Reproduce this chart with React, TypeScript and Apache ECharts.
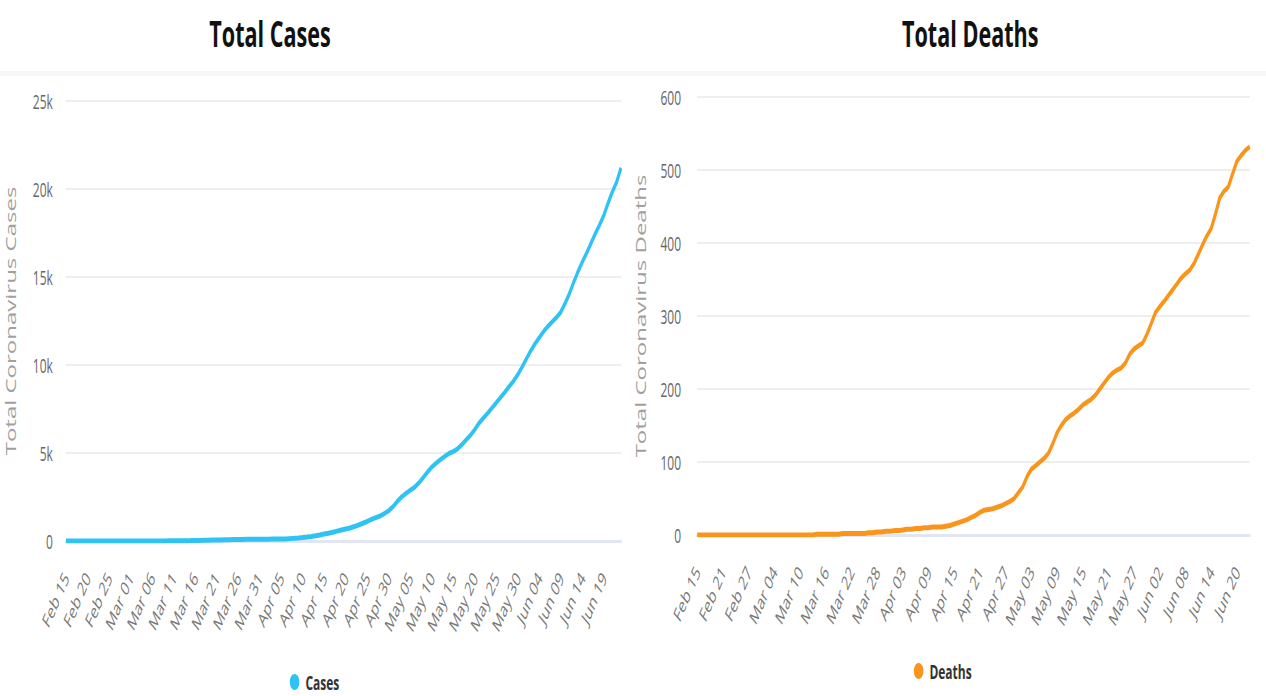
import React, { useEffect, useRef } from "react";
import * as echarts from "echarts";

// Daily series, Feb 15 2020 .. Jun 23 2020 (130 days)
const START_YEAR = 2020;
const START_MONTH = 1; // Feb (0-based)
const START_DAY = 15;
const MONTH_NAMES = ["Jan", "Feb", "Mar", "Apr", "May", "Jun", "Jul", "Aug", "Sep", "Oct", "Nov", "Dec"];

const totalCases = [
  0, 0, 0, 0, 0, 0, 0, 0, 0, 0,
  0, 0, 0, 0, 0, 1, 1, 1, 2, 2,
  3, 4, 5, 6, 8, 10, 12, 15, 18, 22,
  27, 32, 38, 44, 50, 56, 62, 68, 75, 82,
  88, 92, 95, 98, 100, 102, 104, 106, 108, 110,
  112, 120, 135, 150, 170, 195, 225, 260, 300, 345,
  395, 445, 500, 560, 620, 680, 740, 820, 910, 1010,
  1110, 1230, 1330, 1420, 1560, 1720, 1950, 2250, 2500, 2700,
  2880, 3050, 3300, 3600, 3900, 4200, 4420, 4620, 4800, 4970,
  5080, 5230, 5480, 5740, 6000, 6330, 6700, 6980, 7260, 7560,
  7850, 8150, 8450, 8780, 9080, 9450, 9880, 10350, 10800, 11200,
  11550, 11900, 12200, 12450, 12700, 13000, 13500, 14050, 14700, 15300,
  15850, 16350, 16900, 17450, 17950, 18500, 19200, 19850, 20400, 21200,
];

const totalDeaths = [
  0, 0, 0, 0, 0, 0, 0, 0, 0, 0,
  0, 0, 0, 0, 0, 0, 0, 0, 0, 0,
  0, 0, 0, 0, 0, 0, 0, 0, 1, 1,
  1, 1, 1, 1, 2, 2, 2, 2, 2, 2,
  3, 3, 4, 4, 5, 5, 6, 6, 7, 8,
  8, 9, 9, 10, 10, 11, 11, 11, 12, 13,
  15, 17, 19, 21, 24, 27, 31, 34, 35, 36,
  38, 40, 43, 46, 50, 58, 66, 80, 90, 95,
  100, 105, 112, 125, 140, 150, 158, 163, 167, 172,
  178, 182, 186, 192, 200, 208, 216, 222, 226, 229,
  236, 248, 255, 259, 263, 275, 290, 305, 313, 320,
  328, 336, 344, 352, 358, 363, 372, 385, 398, 410,
  420, 440, 462, 471, 477, 495, 512, 520, 527, 532,
];

function buildDates(count: number): string[] {
  const out: string[] = [];
  for (let i = 0; i < count; i++) {
    const d = new Date(START_YEAR, START_MONTH, START_DAY + i);
    const dd = String(d.getDate()).padStart(2, "0");
    out.push(MONTH_NAMES[d.getMonth()] + " " + dd);
  }
  return out;
}

const dates = buildDates(totalCases.length);

const casesTicks = { min: 0, max: 25000, interval: 5000 };
const deathsTicks = { min: 0, max: 600, interval: 100 };

const FONT = "'Open Sans', 'Liberation Sans', sans-serif";
const SCALE_X = 0.6;
const W = Math.round(1266 / SCALE_X);
const H = 696;

const labelStyle = { color: "#666666", fontFamily: FONT, fontSize: 20 };

function buildOption() {
  return {
    animation: false,
    backgroundColor: "#ffffff",
    graphic: [
      { type: "rect", shape: { x: 0, y: 71, width: W, height: 5 }, style: { fill: "#f7f7f7" }, silent: true },
      {
        type: "text", x: 450, y: 33,
        style: { text: "Total Cases", align: "center", verticalAlign: "middle", fill: "#111111", font: "bold 36px " + FONT },
      },
      {
        type: "text", x: 1617, y: 33,
        style: { text: "Total Deaths", align: "center", verticalAlign: "middle", fill: "#111111", font: "bold 36px " + FONT },
      },
    ],
    legend: [
      {
        data: ["Cases"], left: 478, top: 667, icon: "circle", itemWidth: 26, itemHeight: 16,
        textStyle: { color: "#333333", fontFamily: FONT, fontSize: 20, fontWeight: "bold" },
      },
      {
        data: ["Deaths"], left: 1518, top: 656, icon: "circle", itemWidth: 26, itemHeight: 16,
        textStyle: { color: "#333333", fontFamily: FONT, fontSize: 20, fontWeight: "bold" },
      },
    ],
    grid: [
      { left: 110, right: W - 1035, top: 101, bottom: H - 541 },
      { left: 1162, right: W - 2083, top: 97, bottom: H - 535 },
    ],
    xAxis: [0, 1].map((i) => ({
      type: "category",
      gridIndex: i,
      data: dates,
      boundaryGap: false,
      offset: 3,
      axisLine: { show: true, lineStyle: { color: "#e1e6f2", width: 3 } },
      axisTick: { show: false },
      axisLabel: { ...labelStyle, color: "#777777", rotate: 55, interval: i === 0 ? 4 : 5, margin: 30 },
      splitLine: { show: false },
    })),
    yAxis: [
      {
        type: "value", gridIndex: 0, ...casesTicks,
        name: "Total Coronavirus Cases", nameLocation: "middle", nameGap: 80, nameRotate: 90,
        nameTextStyle: { color: "#a0a0a0", fontFamily: FONT, fontSize: 24 },
        axisLine: { show: false }, axisTick: { show: false },
        axisLabel: { ...labelStyle, margin: 22, formatter: (v: number) => (v === 0 ? "0" : v / 1000 + "k") },
        splitLine: { lineStyle: { color: "#eeeeee", width: 2 } },
      },
      {
        type: "value", gridIndex: 1, ...deathsTicks,
        name: "Total Coronavirus Deaths", nameLocation: "middle", nameGap: 82, nameRotate: 90,
        nameTextStyle: { color: "#a0a0a0", fontFamily: FONT, fontSize: 24 },
        axisLine: { show: false }, axisTick: { show: false },
        axisLabel: { ...labelStyle, margin: 27 },
        splitLine: { lineStyle: { color: "#eeeeee", width: 2 } },
      },
    ],
    series: [
      {
        name: "Cases", type: "line", xAxisIndex: 0, yAxisIndex: 0, data: totalCases,
        showSymbol: false, color: "#2fc3f5", lineStyle: { width: 5, color: "#2fc3f5" },
      },
      {
        name: "Deaths", type: "line", xAxisIndex: 1, yAxisIndex: 1, data: totalDeaths,
        showSymbol: false, color: "#f8951a", lineStyle: { width: 5, color: "#f8951a" },
      },
    ],
  };
}

export default function App() {
  const ref = useRef<HTMLDivElement>(null);
  useEffect(() => {
    if (!ref.current) return;
    const chart = echarts.init(ref.current, undefined, { renderer: "svg" });
    chart.setOption(buildOption() as any);
    return () => chart.dispose();
  }, []);
  return (
    <div style={{ position: "fixed", left: 0, top: 0, width: 1266, height: H, overflow: "hidden", background: "#fff" }}>
      <div
        ref={ref}
        style={{ width: W, height: H, transform: `scaleX(${SCALE_X})`, transformOrigin: "0 0" }}
      />
    </div>
  );
}
